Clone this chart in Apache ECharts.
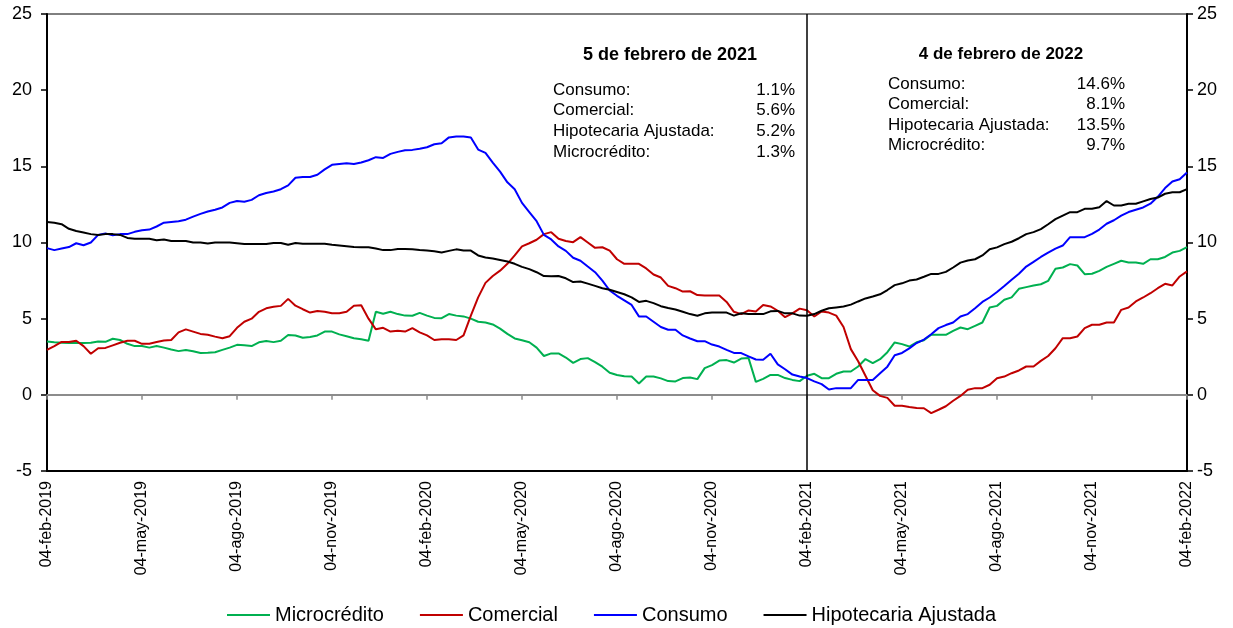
<!DOCTYPE html>
<html>
<head>
<meta charset="utf-8">
<script src="https://cdn.jsdelivr.net/npm/echarts@6/dist/echarts.min.js"></script>
<style>
html,body{margin:0;padding:0;background:#fff;}
#chart{width:1233px;height:628px;}
</style>
</head>
<body>
<div id="chart"></div>
<script>
// Quarterly tick labels (every 13 weeks)
const tickLabels = ['04-feb-2019','04-may-2019','04-ago-2019','04-nov-2019','04-feb-2020','04-may-2020','04-ago-2020','04-nov-2020','04-feb-2021','04-may-2021','04-ago-2021','04-nov-2021','04-feb-2022'];
const weeksPerTick = 13;
const nWeeks = 157;

const microcredito = [
3.5,3.45,3.42,3.4,3.4,3.4,3.42,3.5,3.48,3.68,3.6,3.35,3.2,3.2,3.1,3.2,3.1,2.98,2.87,2.95,2.86,2.74,2.76,2.8,2.95,3.1,3.28,3.25,3.2,3.45,3.54,3.46,3.55,3.93,3.9,3.75,3.8,3.9,4.15,4.15,3.97,
3.85,3.72,3.65,3.55,5.45,5.32,5.45,5.3,5.2,5.19,5.38,5.2,5.05,5.03,5.3,5.2,5.15,5.0,4.8,4.75,4.62,4.35,4.0,3.7,3.58,3.45,3.1,2.55,2.72,2.72,2.45,2.1,2.35,2.41,2.15,1.85,1.45,1.3,1.22,
1.2,0.75,1.2,1.2,1.08,0.9,0.88,1.1,1.14,1.03,1.75,1.95,2.25,2.28,2.12,2.38,2.41,0.85,1.05,1.31,1.31,1.1,0.98,0.9,1.25,1.38,1.09,1.09,1.38,1.53,1.53,1.86,2.35,2.08,2.34,2.8,3.44,3.33,3.17,3.45,
3.58,3.94,3.94,3.94,4.2,4.42,4.31,4.53,4.75,5.73,5.84,6.24,6.4,6.96,7.07,7.18,7.26,7.48,8.27,8.36,8.58,8.49,7.92,7.95,8.14,8.4,8.6,8.8,8.69,8.69,8.6,8.9,8.9,9.05,9.34,9.45,9.7
];
const comercial = [
2.95,3.2,3.47,3.47,3.55,3.2,2.7,3.06,3.08,3.25,3.42,3.55,3.55,3.35,3.35,3.47,3.57,3.6,4.1,4.3,4.15,4.0,3.94,3.82,3.72,3.85,4.4,4.8,5.0,5.45,5.68,5.78,5.84,6.3,5.85,5.62,5.4,5.5,5.45,5.35,5.35,
5.45,5.85,5.88,5.0,4.3,4.4,4.15,4.2,4.15,4.38,4.1,3.9,3.6,3.65,3.65,3.6,3.9,5.2,6.4,7.35,7.8,8.15,8.6,9.15,9.75,9.95,10.18,10.55,10.68,10.25,10.1,10.02,10.35,10.0,9.65,9.69,9.47,8.9,8.6,
8.6,8.6,8.3,7.9,7.7,7.15,7.0,6.78,6.8,6.55,6.52,6.52,6.52,6.1,5.45,5.3,5.54,5.47,5.9,5.8,5.52,5.1,5.35,5.66,5.55,5.14,5.47,5.4,5.2,4.45,3.0,2.2,1.25,0.3,-0.07,-0.2,-0.72,-0.72,-0.8,-0.87,
-0.88,-1.2,-0.98,-0.75,-0.39,-0.07,0.33,0.44,0.44,0.66,1.09,1.2,1.42,1.6,1.86,1.86,2.23,2.55,3.06,3.72,3.72,3.83,4.38,4.6,4.6,4.75,4.75,5.58,5.73,6.13,6.39,6.67,7.0,7.29,7.18,7.77,8.1
];
const consumo = [
9.63,9.5,9.6,9.7,9.95,9.82,10.0,10.5,10.6,10.47,10.55,10.55,10.7,10.8,10.85,11.05,11.3,11.35,11.4,11.5,11.7,11.88,12.03,12.15,12.3,12.6,12.72,12.68,12.8,13.1,13.25,13.35,13.5,13.75,14.25,14.3,14.3,14.45,14.8,15.1,15.15,
15.2,15.15,15.25,15.4,15.6,15.55,15.82,15.95,16.05,16.08,16.15,16.25,16.45,16.52,16.9,16.96,16.96,16.9,16.1,15.88,15.25,14.65,13.95,13.5,12.6,12.0,11.4,10.5,10.2,9.74,9.45,9.0,8.8,8.42,8.05,7.5,6.85,6.5,6.2,
5.9,5.15,5.14,4.8,4.45,4.27,4.27,3.9,3.7,3.52,3.52,3.3,3.17,2.95,2.75,2.74,2.52,2.32,2.3,2.7,2.0,1.68,1.33,1.2,1.1,0.88,0.7,0.35,0.44,0.44,0.44,0.98,0.98,0.98,1.42,1.85,2.6,2.75,3.05,3.4,
3.63,3.98,4.38,4.58,4.75,5.14,5.3,5.69,6.1,6.39,6.75,7.15,7.56,7.95,8.42,8.73,9.05,9.34,9.6,9.8,10.35,10.35,10.35,10.57,10.85,11.23,11.46,11.77,12.0,12.15,12.3,12.55,13.0,13.57,14.0,14.15,14.6
];
const hipotecaria = [
11.35,11.3,11.2,10.9,10.75,10.65,10.55,10.5,10.55,10.55,10.5,10.3,10.25,10.25,10.25,10.15,10.2,10.1,10.1,10.1,10.0,10.0,9.93,10.0,10.0,10.0,9.95,9.9,9.9,9.9,9.9,9.97,9.97,9.85,9.97,9.92,9.92,9.92,9.92,9.85,9.8,
9.75,9.7,9.69,9.69,9.6,9.5,9.5,9.57,9.57,9.55,9.5,9.47,9.43,9.35,9.45,9.55,9.47,9.47,9.15,9.02,8.95,8.85,8.75,8.6,8.4,8.25,8.05,7.8,7.78,7.8,7.65,7.4,7.44,7.3,7.15,7.0,6.9,6.75,6.6,
6.4,6.1,6.17,6.02,5.82,5.7,5.6,5.45,5.3,5.19,5.35,5.4,5.4,5.4,5.2,5.36,5.3,5.3,5.3,5.48,5.51,5.35,5.35,5.2,5.19,5.3,5.52,5.68,5.74,5.8,5.92,6.13,6.33,6.45,6.6,6.88,7.2,7.32,7.5,7.57,
7.75,7.94,7.94,8.07,8.36,8.68,8.82,8.9,9.15,9.56,9.68,9.89,10.05,10.28,10.55,10.68,10.88,11.2,11.53,11.77,11.99,11.99,12.21,12.21,12.32,12.72,12.43,12.43,12.54,12.54,12.7,12.86,12.95,13.2,13.3,13.3,13.5
];

// Annotation boxes
const box1Title = '5 de febrero de 2021';
const box1Labels = ['Consumo:','Comercial:','Hipotecaria Ajustada:','Microcrédito:'];
const box1Values = ['1.1%','5.6%','5.2%','1.3%'];
const box2Title = '4 de febrero de 2022';
const box2Labels = ['Consumo:','Comercial:','Hipotecaria Ajustada:','Microcrédito:'];
const box2Values = ['14.6%','8.1%','13.5%','9.7%'];
const markerIndex = 104; // 04-feb-2021

const categories = [];
for (let i = 0; i < nWeeks; i++) {
  categories.push(i % weeksPerTick === 0 ? tickLabels[i / weeksPerTick] : 'w' + i);
}

const FONT = '"Liberation Sans", Arial, sans-serif';
const chart = echarts.init(document.getElementById('chart'), null, {renderer: 'canvas'});

function textEl(x, y, text, opts) {
  return {
    type: 'text', x: x, y: y,
    style: Object.assign({text: text, fill: '#000', font: '17px ' + FONT, textVerticalAlign: 'middle', verticalAlign: 'middle'}, opts || {})
  };
}
const graphics = [];
graphics.push(textEl(670, 55, box1Title, {font: 'bold 18px ' + FONT, textAlign: 'center', align: 'center'}));
const rows1 = [90, 110.5, 131, 152];
box1Labels.forEach((l, k) => {
  graphics.push(textEl(553, rows1[k], l, {textAlign: 'left', align: 'left'}));
  graphics.push(textEl(795, rows1[k], box1Values[k], {textAlign: 'right', align: 'right'}));
});
graphics.push(textEl(1001, 54, box2Title, {font: 'bold 17px ' + FONT, textAlign: 'center', align: 'center'}));
const rows2 = [84, 104, 125, 145];
box2Labels.forEach((l, k) => {
  graphics.push(textEl(888, rows2[k], l, {textAlign: 'left', align: 'left'}));
  graphics.push(textEl(1125, rows2[k], box2Values[k], {textAlign: 'right', align: 'right'}));
});

function lineSeries(name, data, color, z) {
  return {
    name: name, type: 'line', data: data, xAxisIndex: 0, yAxisIndex: 0,
    symbol: 'none', showSymbol: false, smooth: false, z: z,
    lineStyle: {color: color, width: 2}, itemStyle: {color: color},
    emphasis: {disabled: true}
  };
}

const series = [
  lineSeries('Microcrédito', microcredito, '#00b050', 3),
  lineSeries('Comercial', comercial, '#c00000', 4),
  lineSeries('Consumo', consumo, '#0000ff', 5),
  lineSeries('Hipotecaria Ajustada', hipotecaria, '#000000', 6)
];
series[3].markLine = {
  silent: true, symbol: ['none', 'none'], label: {show: false},
  lineStyle: {color: '#000', width: 1.5, type: 'solid'},
  data: [{xAxis: categories[markerIndex]}],
  animation: false
};

const option = {
  animation: false,
  backgroundColor: '#ffffff',
  textStyle: {fontFamily: FONT},
  grid: {left: 47, right: 46, top: 14, bottom: 157, show: true, borderColor: '#000', borderWidth: 1, backgroundColor: 'transparent', containLabel: false},
  legend: {
    left: 222, top: 600, icon: 'rect', itemWidth: 43, itemHeight: 2, itemGap: 36,
    textStyle: {fontSize: 20, color: '#000', fontFamily: FONT},
    data: ['Microcrédito', 'Comercial', 'Consumo', 'Hipotecaria Ajustada']
  },
  xAxis: [
    {
      type: 'category', data: categories, boundaryGap: false, position: 'top',
      axisLine: {show: true, onZero: true, onZeroAxisIndex: 0, lineStyle: {color: '#8c8c8c', width: 2}},
      axisTick: {show: true, inside: true, interval: weeksPerTick - 1, length: 5, lineStyle: {color: '#8c8c8c', width: 1.5}},
      axisLabel: {show: false}, splitLine: {show: false}
    },
    {
      type: 'category', data: categories, boundaryGap: false, position: 'bottom',
      axisLine: {show: true, onZero: false, lineStyle: {color: '#000', width: 2}},
      axisTick: {show: false},
      axisLabel: {show: true, interval: weeksPerTick - 1, rotate: 90, fontSize: 16, margin: 10, color: '#000', fontFamily: FONT},
      splitLine: {show: false}
    }
  ],
  yAxis: [
    {
      type: 'value', min: -5, max: 25, interval: 5, position: 'left',
      axisLine: {show: true, onZero: false, lineStyle: {color: '#000', width: 2}},
      axisTick: {show: true, length: 6, lineStyle: {color: '#000', width: 1.5}},
      axisLabel: {fontSize: 18, color: '#000', margin: 15, fontFamily: FONT},
      splitLine: {show: false}
    },
    {
      type: 'value', min: -5, max: 25, interval: 5, position: 'right',
      axisLine: {show: true, onZero: false, lineStyle: {color: '#000', width: 2}},
      axisTick: {show: true, length: 6, lineStyle: {color: '#000', width: 1.5}},
      axisLabel: {fontSize: 18, color: '#000', margin: 10, fontFamily: FONT},
      splitLine: {show: false}
    }
  ],
  series: series,
  graphic: graphics
};
chart.setOption(option);
</script>
</body>
</html>
